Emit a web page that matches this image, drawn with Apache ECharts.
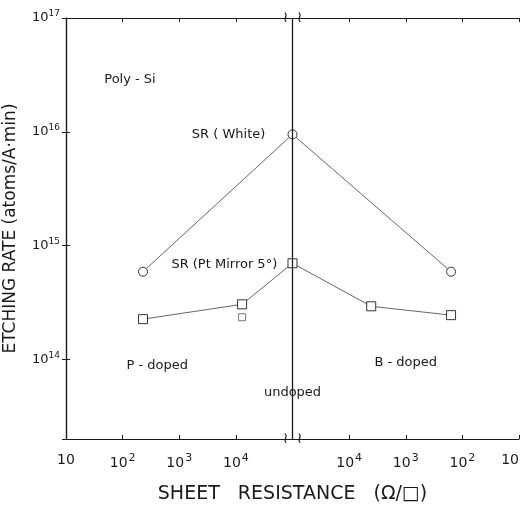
<!DOCTYPE html>
<html>
<head>
<meta charset="utf-8">
<script src="https://cdn.jsdelivr.net/npm/echarts@6/dist/echarts.min.js"></script>
<style>
html, body { margin: 0; padding: 0; background: #fff; }
#main { width: 525px; height: 507px; }
</style>
</head>
<body>
<div id="main"></div>
<script>
// x axis: 0..8 in decade steps, 4 = undoped (break), left P-doped, right B-doped
var xTickExp = [1, 2, 3, 4, null, 4, 3, 2, 1];
var whiteX = [1.36, 4.0, 6.8];
var whiteY = [5.9e14, 9.5e15, 5.9e14];
var mirrorX = [1.36, 3.11, 4.0, 5.39, 6.8];
var mirrorY = [2.26e14, 3.05e14, 7.0e14, 2.93e14, 2.45e14];
var extraX = [3.11];
var extraY = [2.35e14];
var yMin = 2e13, yMax = 1e17;
var notes = [
    { text: 'Poly - Si', x: 1.13, y: 2.9e16, align: 'center' },
    { text: 'SR ( White)', x: 3.52, y: 9.5e15, align: 'right' },
    { text: 'SR (Pt Mirror 5°)', x: 3.73, y: 6.8e14, align: 'right' },
    { text: 'P - doped', x: 1.61, y: 8.9e13, align: 'center' },
    { text: 'undoped', x: 4.0, y: 5.1e13, align: 'center' },
    { text: 'B - doped', x: 6.0, y: 9.3e13, align: 'center' }
];

var font = "'DejaVu Sans', sans-serif";
var ink = '#1a1a1a';

function pairs(xs, ys) {
    return xs.map(function (x, i) { return [x, ys[i]]; });
}
function supLabel(exp) {
    if (exp === null) return '';
    if (exp === 1) return '{b|10}';
    return '{b|10}{s|' + exp + '}';
}

var chart = echarts.init(document.getElementById('main'));
var option = {
    animation: false,
    textStyle: { fontFamily: font, color: ink },
    grid: { left: 66, right: 6, top: 18, bottom: 68, outerBoundsMode: 'none', containLabel: false },
    xAxis: [
        {
            type: 'value',
            min: 0,
            max: 8,
            interval: 1,
            position: 'bottom',
            name: 'SHEET   RESISTANCE   (Ω/□)',
            nameLocation: 'middle',
            nameGap: 46,
            nameTextStyle: { fontSize: 19, color: ink, fontFamily: font },
            axisLine: { lineStyle: { color: ink, width: 1.2 } },
            axisTick: { inside: true, length: 4, lineStyle: { color: ink } },
            splitLine: { show: false },
            axisLabel: {
                margin: 14,
                alignMaxLabel: 'right',
                formatter: function (v) { return supLabel(xTickExp[Math.round(v)]); },
                rich: {
                    b: { fontSize: 14, color: ink, fontFamily: font },
                    s: { fontSize: 11, color: ink, fontFamily: font, padding: [0, 0, 9, 1] }
                }
            }
        },
        {
            type: 'value',
            min: 0,
            max: 8,
            interval: 1,
            position: 'top',
            axisLine: { lineStyle: { color: ink, width: 1.2 } },
            axisTick: { inside: true, length: 4, lineStyle: { color: ink } },
            axisLabel: { show: false },
            splitLine: { show: false }
        }
    ],
    yAxis: [
        {
            type: 'log',
            logBase: 10,
            min: yMin,
            max: yMax,
            name: 'ETCHING RATE (atoms/A·min)',
            nameLocation: 'middle',
            nameGap: 47,
            nameTextStyle: { fontSize: 17, color: ink, fontFamily: font },
            axisLine: { lineStyle: { color: ink, width: 1.2 } },
            axisTick: { inside: true, length: 4, lineStyle: { color: ink } },
            splitLine: { show: false },
            axisLabel: {
                margin: 6,
                showMinLabel: false,
                formatter: function (v) {
                    var e = Math.log10(v);
                    if (Math.abs(e - Math.round(e)) > 1e-6) return '';
                    return '{b|10}{s|' + Math.round(e) + '}';
                },
                rich: {
                    b: { fontSize: 13, color: ink, fontFamily: font },
                    s: { fontSize: 9, color: ink, fontFamily: font, padding: [0, 0, 8, 0] }
                }
            }
        },
        {
            type: 'log',
            logBase: 10,
            min: yMin,
            max: yMax,
            position: 'right',
            axisLine: { lineStyle: { color: ink, width: 1.2 } },
            axisTick: { inside: true, length: 4, lineStyle: { color: ink } },
            axisLabel: { show: false },
            splitLine: { show: false }
        }
    ],
    series: [
        {
            name: 'SR (White)',
            type: 'line',
            data: pairs(whiteX, whiteY),
            symbol: 'circle',
            symbolSize: 9,
            itemStyle: { color: '#fff', borderColor: '#333', borderWidth: 1 },
            lineStyle: { color: '#555', width: 0.9 },
            markLine: {
                silent: true,
                symbol: 'none',
                label: { show: false },
                lineStyle: { color: ink, width: 1.3, type: 'solid' },
                data: [{ xAxis: 4 }]
            },
            z: 3
        },
        {
            name: 'SR (Pt Mirror 5°)',
            type: 'line',
            data: pairs(mirrorX, mirrorY),
            symbol: 'rect',
            symbolSize: 9,
            itemStyle: { color: '#fff', borderColor: '#333', borderWidth: 1 },
            lineStyle: { color: '#555', width: 0.9 },
            z: 3
        },
        {
            name: 'extra',
            type: 'scatter',
            data: pairs(extraX, extraY),
            symbol: 'rect',
            symbolSize: 7,
            itemStyle: { color: '#fff', borderColor: '#555', borderWidth: 1 },
            z: 3
        }
    ]
};
chart.setOption(option);

// text notes and the axis break marks, placed through the axes
var graphics = notes.map(function (n) {
    var p = chart.convertToPixel({ gridIndex: 0 }, [n.x, n.y]);
    return {
        type: 'text',
        x: p[0],
        y: p[1],
        style: {
            text: n.text,
            fontSize: 13,
            fontFamily: font,
            fill: ink,
            align: n.align,
            verticalAlign: 'middle'
        }
    };
});
[yMin, yMax].forEach(function (yv) {
    var p = chart.convertToPixel({ gridIndex: 0 }, [4, yv]);
    [-7, 7].forEach(function (dx) {
        graphics.push({
            type: 'text',
            x: p[0] + dx,
            y: p[1],
            style: {
                text: '≀',
                fontSize: 15,
                fontFamily: font,
                fill: ink,
                align: 'center',
                verticalAlign: 'middle'
            }
        });
    });
});
chart.setOption({ graphic: graphics });
</script>
</body>
</html>
